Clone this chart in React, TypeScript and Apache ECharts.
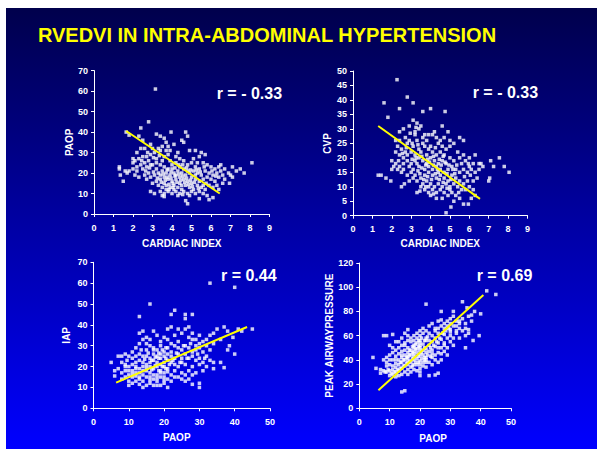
import React, { useEffect, useRef } from "react";
import * as echarts from "echarts";

const titleText = "RVEDVI IN INTRA-ABDOMINAL HYPERTENSION";
const rLabels = ["r = - 0.33", "r = - 0.33", "r = 0.44", "r = 0.69"];
const xNames = ["CARDIAC INDEX", "CARDIAC INDEX", "PAOP", "PAOP"];
const yNames = ["PAOP", "CVP", "IAP", "PEAK AIRWAYPRESSURE"];

// Panel 1: cardiac index vs PAOP
const ciPaop: number[][] = [
  [3.15,61],[2.8,45],[2.4,42],[1.65,40],[1.8,38.5],[3.95,40],[4.7,40],[8.1,25],[1.3,23],[1.3,22],[1.35,19],[1.5,16],
  [7.1,23],[7.5,22],[7.3,21],[7.7,20],[7,19],[7.1,18],[6.95,15],[4.8,5],[4.7,6.5],[5.4,7.5],[6.1,8],[5.9,7],
  [2.3,38],[2.5,36],[2.9,34],[3.2,39],[3.4,38],[3.6,37],[3.7,35],[3.5,33],[3.3,32],[3.0,32],[2.6,32],[2.4,32],
  [2.2,30],[2.0,27],[2.1,26],[2.3,27],[2.5,28],[2.7,28],[2.9,29],[3.1,30],[3.4,31],[3.8,33],[3.9,31],[4.1,34],
  [4.3,30],[4.5,36],[4.6,35],[4.8,38],[4.9,31],[5.2,31],[5.5,30],[5.7,29],[5.4,28],[5.1,27],[4.4,27],[4.2,28],
  [3.8,29],[3.6,28],[3.2,27],[2.8,26],[2.6,25],[2.4,24],[2.2,23],[2.0,22],[1.8,21],[1.7,20],[2.1,19],[2.3,18],
  [2.6,19],[2.8,20],[2.5,22],[2.7,23],[3.0,24],[3.2,25],[3.4,24],[3.6,23],[3.8,22],[4.0,24],[4.2,25],[4.4,23],
  [4.6,22],[4.8,24],[5.0,25],[5.2,23],[5.4,22],[5.6,25],[5.8,24],[6.0,23],[6.2,22],[6.4,23],[6.5,21],[6.3,20],
  [6.1,19],[5.9,20],[5.7,21],[5.5,19],[5.3,20],[5.1,21],[4.9,20],[4.7,19],[4.5,20],[4.3,21],[4.1,20],[3.9,19],
  [3.7,20],[3.5,21],[3.3,20],[3.1,19],[2.9,18],[2.7,17],[3.0,15],[3.2,16],[3.4,17],[3.6,18],[3.8,17],[4.0,16],
  [4.2,17],[4.4,18],[4.6,17],[4.8,16],[5.0,18],[5.2,17],[5.4,16],[5.6,17],[5.8,18],[6.0,17],[6.2,16],[6.4,18],
  [6.6,19],[6.7,17],[3.3,14],[3.5,13],[3.7,12],[3.9,13],[4.1,14],[4.3,13],[4.5,12],[4.7,14],[4.9,13],[5.1,12],
  [5.3,14],[5.5,13],[5.7,12],[5.9,14],[6.1,13],[6.3,14],[3.4,11],[3.6,10],[3.8,11],[4.0,10],[4.2,11],[4.4,10],
  [4.6,11],[4.8,10],[5.0,11],[5.2,10],[5.4,11],[5.6,10],[3.5,9],[3.1,10],[2.9,11],[3.6,8.5],[4.3,9],[5.8,9],
  [4.9,9],[6.7,22],[6.5,24],[6.9,20],[3.9,26],[4.6,26],[5.3,25],[2.0,25],[1.6,21],[2.2,21],[6.6,15],[6.4,12],
  [3.5,26],[3.7,31],[4.0,22],[4.2,19],[3.4,19],[3.6,15],[4.4,15],[5.0,15],[5.6,14],[4.1,12],[3.2,22],[2.9,24],
  [3.55,19.5],[3.75,18],[3.95,17.5],[4.15,18.5],[4.35,19.5],[4.55,18.5],[4.75,17.5],[4.95,16.5],[5.15,15.5],
  [3.45,15.5],[3.65,16.5],[3.85,14.5],[4.05,15],[4.25,15.5],[4.45,16.5],[4.65,15.5],[4.85,14.5],[5.05,13.5],
  [3.75,21.5],[3.95,20.5],[4.15,22.5],[4.35,24],[4.55,24],[4.75,22.5],[4.95,21.5],[5.25,21.5],[5.45,20.5],
  [3.25,17.5],[3.05,20.5],[2.85,22.5],[2.65,21],[2.45,26],[2.75,30],[3.05,27.5],[3.35,28.5],[3.85,12],[4.55,9.5],
  [5.35,12.5],[5.75,15],[6.05,21],[6.25,18.5],[5.65,23],[4.05,13],[4.5,14],[3.7,14],[5.2,19],[4.8,21]
];
const ciPaopFit: number[][] = [[1.65,40.5],[6.45,10]];

// Panel 2: cardiac index vs CVP
const ciCvp: number[][] = [
  [2.27,47],[2.8,41],[1.6,39],[3.1,39],[4.0,37],[3.6,36],[4.75,36],[1.8,34],[2.4,37],[8.05,15],[7.55,20],[7.1,19],
  [7.8,17],[7.25,17],[7.05,13],[7.0,12],[4.8,1],[5.05,3],[5.7,4],[5.95,4],[1.3,14],[1.45,14],[1.7,13],[1.95,12],
  [2.5,10],[2.65,11],[3.3,8],[3.45,8.5],
  [3.1,33],[3.3,32],[3.5,31],[2.9,31],[3.4,30],[3.2,29],[2.6,30],[2.4,29],[4.6,31],[4.9,29],[4.2,29],[4.1,28],
  [3.9,28],[3.7,28],[3.2,28],[2.7,27],[2.9,26],[3.3,26],[3.6,27],[3.8,26],[4.3,27],[4.5,26],[5.5,27],[5.7,26],
  [5.2,25],[5.0,24],[4.8,23],[4.6,24],[4.4,25],[4.0,24],[3.7,24],[3.4,23],[3.1,24],[2.8,25],[2.5,23],[2.3,24],
  [2.2,22],[2.4,21],[2.6,20],[2.8,21],[3.0,22],[3.2,21],[3.5,22],[3.8,21],[4.1,22],[4.3,21],[4.5,22],[4.7,21],
  [5.4,22],[5.7,21],[6.0,20],[6.3,21],[6.5,18],[6.2,18],[6.0,17],[5.8,19],[5.5,20],[5.2,19],[5.0,20],[4.8,18],
  [4.6,19],[4.4,18],[4.2,19],[4.0,20],[3.8,18],[3.6,19],[3.4,20],[3.2,19],[3.0,18],[2.8,19],[2.6,18],[2.4,17],
  [2.2,18],[2.0,19],[2.1,17],[2.0,16],[2.3,16],[2.6,16],[2.9,17],[3.1,16],[3.4,17],[3.7,16],[3.9,17],[4.1,16],
  [4.3,17],[4.5,16],[4.7,15],[4.9,16],[5.1,17],[5.3,16],[5.5,15],[5.7,16],[5.9,15],[6.1,16],[6.3,15],[6.5,16],
  [6.7,17],[6.6,18],[6.4,13],[6.2,12],[2.5,15],[2.8,14],[3.0,15],[3.2,14],[3.5,13],[3.7,14],[3.9,15],[4.1,14],
  [4.3,13],[4.5,14],[4.7,13],[4.9,12],[5.1,14],[5.3,13],[5.5,12],[5.7,11],[5.9,12],[6.0,10],[3.3,12],[3.6,11],
  [3.8,12],[4.0,11],[4.2,10],[4.4,11],[4.6,10],[4.8,11],[5.0,10],[5.2,11],[5.4,10],[5.6,9],[5.8,9],[3.5,10],
  [3.7,9],[3.9,8],[4.1,9],[4.3,8],[4.5,9],[4.7,8],[4.9,7],[5.1,8],[5.3,7],[5.5,6],[4.0,7],[4.3,6],[4.6,6],
  [5.2,5],[5.0,9],[3.9,10],[6.2,9],[6.3,7],[6.1,6],[2.9,12],[3.1,13],[4.4,15],[5.6,18],[3.3,18],[2.7,22],
  [3.9,23],[4.7,27],[5.0,26],[3.6,25],[2.2,26],[2.4,26],
  [3.35,15.5],[3.55,16.5],[3.75,17.5],[3.95,18.5],[4.15,17.5],[4.35,16],[4.55,17.5],[4.75,18.5],[4.95,17.5],
  [5.15,16],[5.35,17.5],[3.45,14.5],[3.65,12.5],[3.85,13.5],[4.05,12.5],[4.25,14.5],[4.45,12.5],[4.65,11.5],
  [4.85,14.5],[5.05,12.5],[5.25,14.5],[3.25,20],[3.55,20.5],[3.85,19.5],[4.15,20.5],[4.45,19.5],[4.65,20.5],
  [2.75,23.5],[3.05,25],[3.35,24.5],[2.95,28.5],[3.25,30.5],[2.55,21.5],[2.35,19],[4.25,23.5],[3.75,10],
  [4.15,7.5],[4.85,9.5],[5.45,8],[5.75,13.5],[6.05,14],[5.95,18],[3.05,19.5]
];
const ciCvpFit: number[][] = [[1.3,31],[6.55,5.8]];

// Panel 3: PAOP vs IAP
const paopIap: number[][] = [
  [33,60],[40,58],[16,50],[13,44],[23,47],[22,45],[26,45],[26,43],[28,45],[45,38],[40,26],[37,19.5],[36,22],
  [5,22],[6,15.5],[30,12],[30,10],[14,10],[13,11.5],[21,10],[26,13],[28,11.5],[39.5,34],[37,39],[38,37],[42,37],
  [41,38],[38.5,30],[38,28],[36,33],[35,38],[34,36],[33,35],[32,33],[31,32],[30,31],[29,30],[30,29],[32,30],
  [34,31],[33,28],[31,27],[29,28],[28,27],[27,29],[26,30],[25,28],[24,29],[23,30],[22,31],[21,33],[20,34],
  [19,32],[18,35],[16,33],[15,34],[14,33],[13,36],[14,37],[17,37],[21,38],[22,39],[24,38],[26,38],[27,39],
  [28,36],[25,36],[23,35],[29,33],[12,29],[13,31],[15,28],[16,30],[17,29],[18,28],[19,30],[20,27],[21,29],
  [22,27],[24,26],[26,26],[28,25],[30,24],[32,25],[33,23],[34,22],[31,22],[29,23],[27,24],[25,24],[23,24],
  [22,25],[20,25],[19,26],[18,25],[17,26],[16,24],[15,25],[14,25],[13,26],[12,25],[11,24],[10,25],[9,26],
  [8,25],[7,25],[8,22],[9,21],[10,20],[11,21],[12,22],[13,23],[14,22],[15,21],[16,22],[17,23],[18,22],[19,21],
  [20,22],[21,23],[22,22],[23,21],[24,20],[25,22],[26,21],[28,20],[30,21],[32,20],[34,19],[31,18],[29,17],
  [27,18],[25,17],[23,18],[21,19],[19,18],[17,19],[15,18],[13,19],[11,18],[9,18],[7,19],[6,18],[8,17],[10,16],
  [12,17],[14,16],[16,17],[18,16],[20,17],[22,16],[24,15],[26,16],[28,16],[27,14],[25,14],[23,15],[21,14],
  [19,15],[17,14],[15,15],[13,14],[11,15],[9,15],[8,14],[10,13],[12,13],[14,13],[16,12],[18,13],[20,12],
  [22,13],[17,11],[19,11],[11,12],[10,11],[15,11],[16,20],[18,20],[20,20],[14,20],[12,20],[19,24],[21,26],
  [17,28],[15,31],[11,27],[24,32],[28,33],[30,35],[27,34],
  [16.5,18.5],[17.5,20.5],[18.5,18],[19.5,20],[20.5,19],[21.5,21],[17,16],[18,14.5],[19,17],[20,15],[21,17.5],
  [16,15],[15,19.5],[14,18],[13,17],[12,15.5],[11,16.5],[10,18],[9,20],[12,19],[14.5,23.5],[16.5,23],[18.5,24],
  [20.5,24],[22.5,23],[19.5,28],[20.5,29],[18.5,26.5],[17.5,24.5],[15.5,26.5],[13.5,28],[24.5,22],[26.5,24],
  [23.5,26.5],[25.5,30],[27.5,31],[29.5,26],[31.5,24],[18,11],[20,13.5],[16,13.5],[13,15],[9.5,23]
];
const paopIapFit: number[][] = [[6.4,12.3],[43.5,39]];

// Panel 4: PAOP vs peak airway pressure
const paopPeak: number[][] = [
  [42,97],[45,94],[22,86],[34,88],[27,80],[31,80],[35.5,83],[40,78],[39.5,60],[37.5,56],[35,50],[14,13.5],
  [15,14.5],[4.5,42],[5.5,33],[7,29],[8,60],[9,60],[11,61],[25,27.5],[26,29],[23,27],[20,27],[16,28],[8.5,30],
  [38,80],[37,77],[36,76],[34,74],[35,70],[33,70],[32,72],[30,74],[29,72],[28,70],[29,68],[31,68],[33,66],
  [34,64],[32,64],[30,65],[28,66],[27,68],[26,66],[25,64],[26,62],[28,61],[30,60],[31,58],[32,62],[33,58],
  [36,62],[36,65],[35,60],[29,58],[27,57],[25,58],[24,60],[23,62],[22,64],[21,62],[20,60],[19,58],[20,56],
  [22,56],[24,55],[26,54],[28,54],[30,55],[31,52],[29,50],[27,50],[25,51],[23,52],[21,53],[19,54],[18,52],
  [17,55],[16,56],[15,54],[14,52],[13,50],[12,48],[11,46],[10,44],[9,42],[8,40],[9,38],[10,36],[11,35],
  [12,37],[13,40],[14,42],[15,44],[16,46],[17,48],[18,47],[19,49],[20,50],[21,48],[22,49],[23,47],[24,45],
  [25,44],[26,46],[27,45],[28,47],[29,44],[24,42],[22,42],[20,44],[18,43],[16,41],[15,40],[14,38],[13,36],
  [12,34],[11,32],[10,31],[9,30],[8,31],[7,32],[11,28],[12,30],[13,31],[14,33],[15,35],[16,36],[17,38],
  [18,40],[19,41],[20,39],[21,38],[22,40],[23,38],[21,35],[19,36],[17,34],[16,32],[18,32],[20,33],[22,34],
  [24,36],[26,38],[25,40],[27,40],[20,30],[19,31],[17,30],[15,30],[14,28],[13,27],[12,26],[10,27],[18,45],
  [17,44],[16,50],[15,48],[14,47],[13,45],[12,43],[18,56],[17,58],[16,60],[15,62],[16,65],[14,58],[13,55],
  [19,62],[20,64],[21,66],[23,68],[24,70],[26,72],[27,73],[18,60],[20,52],[22,46],[24,48],[26,50],[28,52],
  [30,63],[32,68],[35,66],[30,70],[33,72],[31,76],[37,72],[12,55],[10,52],[11,50],[19,46],[21,44],[23,56],
  [25,66],[20,48],[15,52],[14,44],[12,40],[11,40],[10,40],[9,35],[16,38],[18,36],[20,36],[22,38],
  [16.5,44],[17.5,46],[18.5,49],[19.5,51],[20.5,46],[21.5,50],[16.5,48],[17.5,51],[18.5,53],[19.5,56],[20.5,58],
  [21.5,56],[22.5,59],[15.5,42],[14.5,40],[13.5,38],[16.5,39],[17.5,41],[18.5,38],[19.5,43],[20.5,41],[21.5,42],
  [22.5,44],[23.5,50],[24.5,52],[25.5,55],[26.5,58],[27.5,62],[28.5,64],[29.5,66],[15.5,37],[14.5,35],[13.5,33],
  [12.5,32],[11.5,30],[10.5,29],[9.5,32],[17.5,35],[19.5,38],[21.5,40],[23.5,43],[16,43],[18,50],[20,54],[22,58]
];
const paopPeakFit: number[][] = [[6.3,15],[40.9,93.5]];

const FONT = "'Liberation Sans', Arial, sans-serif";

export default function App() {
  const ref = useRef<HTMLDivElement>(null);
  useEffect(() => {
    if (!ref.current) return;
    const chart = echarts.init(ref.current, undefined, { renderer: "svg" });

    const grids = [
      { left: 88, top: 62.6, width: 175.5, height: 143.4 },
      { left: 347, top: 63, width: 174.5, height: 144.7 },
      { left: 87.5, top: 254.3, width: 176.5, height: 146 },
      { left: 353.3, top: 255, width: 151.7, height: 145.3 },
    ];
    const xRanges = [
      { max: 9, interval: 1 },
      { max: 9, interval: 1 },
      { max: 50, interval: 10 },
      { max: 50, interval: 10 },
    ];
    const yRanges = [
      { max: 70, interval: 10 },
      { max: 50, interval: 5 },
      { max: 70, interval: 10 },
      { max: 120, interval: 20 },
    ];
    const xGaps = [24, 23, 24, 25];
    const yGaps = [20, 21, 22, 25];
    const xPads = [[0, 0, 0, 0], [0, 0, 0, 0], [0, 10, 0, 0], [0, 4, 0, 0]];

    const axisCommon = {
      type: "value",
      min: 0,
      axisLine: { show: true, lineStyle: { color: "#ffffff", width: 1 } },
      axisTick: { show: true, length: 3, lineStyle: { color: "#ffffff" } },
      splitLine: { show: false },
      axisLabel: { color: "#ffffff", fontSize: 9, fontWeight: "bold", fontFamily: FONT },
      nameLocation: "middle",
      nameTextStyle: { color: "#ffffff", fontSize: 10, fontWeight: "bold", fontFamily: FONT },
    };

    const xAxis = grids.map((_, i) => ({
      ...axisCommon,
      gridIndex: i,
      max: xRanges[i].max,
      interval: xRanges[i].interval,
      name: xNames[i],
      nameGap: xGaps[i],
      nameTextStyle: { ...axisCommon.nameTextStyle, padding: xPads[i] },
      axisLabel: { ...axisCommon.axisLabel, margin: 9 },
    }));
    const yAxis = grids.map((_, i) => ({
      ...axisCommon,
      gridIndex: i,
      max: yRanges[i].max,
      interval: yRanges[i].interval,
      name: yNames[i],
      nameGap: yGaps[i],
      axisLabel: { ...axisCommon.axisLabel, margin: 6 },
    }));

    const scatters = [ciPaop, ciCvp, paopIap, paopPeak];
    const fits = [ciPaopFit, ciCvpFit, paopIapFit, paopPeakFit];
    const series: any[] = [];
    scatters.forEach((d, i) => {
      series.push({
        type: "scatter",
        xAxisIndex: i,
        yAxisIndex: i,
        data: d,
        symbol: "rect",
        symbolSize: 3.5,
        itemStyle: { color: "#ffffff" },
        silent: true,
      });
      series.push({
        type: "line",
        xAxisIndex: i,
        yAxisIndex: i,
        data: fits[i],
        symbol: "none",
        lineStyle: { color: "#ffff00", width: 2 },
        silent: true,
      });
    });

    const rPos = [
      [210.7, 85],
      [466.7, 84.3],
      [215, 267],
      [470.7, 267],
    ];
    const graphic: any[] = [
      {
        type: "text",
        x: 261,
        y: 27,
        style: {
          text: titleText,
          fill: "#ffff00",
          font: `bold 20px ${FONT}`,
          align: "center",
          verticalAlign: "middle",
        },
      },
      ...rLabels.map((t, i) => ({
        type: "text",
        x: rPos[i][0],
        y: rPos[i][1],
        style: {
          text: t,
          fill: "#ffffff",
          font: `bold 16px ${FONT}`,
          align: "left",
          verticalAlign: "middle",
        },
      })),
    ];

    chart.setOption({
      animation: false,
      backgroundColor: {
        type: "linear",
        x: 0,
        y: 0,
        x2: 0,
        y2: 1,
        colorStops: [
          { offset: 0, color: "#00004c" },
          { offset: 1, color: "#0000ff" },
        ],
      },
      grid: grids,
      xAxis,
      yAxis,
      series,
      graphic,
    });
    return () => chart.dispose();
  }, []);
  return (
    <div
      ref={ref}
      style={{ position: "fixed", left: 6, top: 8, width: 591, height: 441 }}
    />
  );
}
